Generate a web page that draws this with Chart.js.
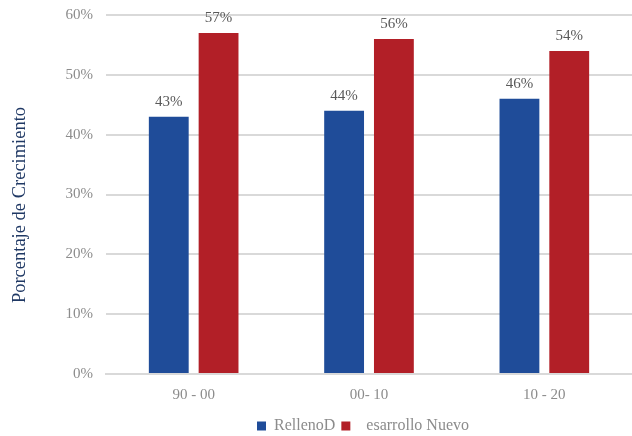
<!DOCTYPE html>
<html>
<head>
<meta charset="utf-8">
<script src="https://cdn.jsdelivr.net/npm/chart.js@4.4.1/dist/chart.umd.min.js"></script>
<style>
  html, body { margin: 0; padding: 0; background: #ffffff; }
  #wrap { width: 632px; height: 436px; }
</style>
</head>
<body>
<div id="wrap"><canvas id="c" width="632" height="436"></canvas></div>
<script>
// Periods and growth shares (percent)
const categories = ['90 - 00', '00- 10', '10 - 20'];
const rellenoValues = [43, 44, 46];
const desarrolloValues = [57, 56, 54];
const seriesNames = ['RellenoD', '  esarrollo Nuevo'];
const yTicks = [0, 10, 20, 30, 40, 50, 60];
const yTitle = 'Porcentaje de Crecimiento';

const SERIF = '"Liberation Serif", "DejaVu Serif", serif';

// Draws the percentage above each bar and the vertical axis title
const annotations = {
  id: 'annotations',
  afterLayout(chart) {
    // legend sits centred under the plot area rather than the whole canvas
    const lg = chart.legend;
    const shift = (chart.chartArea.left + chart.chartArea.right) / 2 - (lg.left + lg.right) / 2 - 6;
    lg.left += shift;
    lg.right += shift;
  },
  afterDatasetsDraw(chart) {
    const ctx = chart.ctx;
    ctx.save();
    ctx.font = '15px ' + SERIF;
    ctx.fillStyle = '#595959';
    ctx.textAlign = 'center';
    ctx.textBaseline = 'bottom';
    chart.data.datasets.forEach((ds, i) => {
      chart.getDatasetMeta(i).data.forEach((bar, j) => {
        ctx.fillText(ds.data[j] + '%', bar.x, bar.y - 7);
      });
    });
    ctx.restore();
  },
  afterDraw(chart) {
    const ctx = chart.ctx;
    ctx.save();
    ctx.translate(20, 205);
    ctx.rotate(-Math.PI / 2);
    ctx.font = '18.5px ' + SERIF;
    ctx.fillStyle = '#1F3864';
    ctx.textAlign = 'center';
    ctx.textBaseline = 'middle';
    ctx.fillText(yTitle, 0, 0);
    ctx.restore();
  }
};

new Chart(document.getElementById('c'), {
  type: 'bar',
  data: {
    labels: categories,
    datasets: [
      { label: seriesNames[0], data: rellenoValues, backgroundColor: '#1F4C99' },
      { label: seriesNames[1], data: desarrolloValues, backgroundColor: '#B21F27' }
    ]
  },
  options: {
    responsive: false,
    animation: false,
    devicePixelRatio: 1,
    layout: { padding: { top: 15, right: 0, bottom: -8, left: 0 } },
    datasets: {
      bar: { categoryPercentage: 0.568, barPercentage: 0.8 }
    },
    scales: {
      x: {
        grid: { display: false },
        border: { display: true, color: '#d9d9d9', width: 2 },
        ticks: { color: '#8c8c8c', font: { family: SERIF, size: 15 }, padding: 4 },
        afterFit(s) { s.height = 38; }
      },
      y: {
        min: 0, max: 60,
        afterBuildTicks(s) { s.ticks = yTicks.map(v => ({ value: v })); },
        grid: { color: '#d9d9d9', lineWidth: 2, drawTicks: false },
        border: { display: false },
        ticks: {
          color: '#8c8c8c',
          font: { family: SERIF, size: 15 },
          padding: 13,
          callback: v => v + '%'
        },
        afterFit(s) { s.width = 106; s.paddingTop = 0; s.paddingBottom = 0; }
      }
    },
    plugins: {
      legend: {
        position: 'bottom',
        labels: {
          color: '#8c8c8c',
          font: { family: SERIF, size: 16 },
          boxWidth: 9,
          boxHeight: 9,
          padding: 6
        }
      },
      tooltip: { enabled: false },
      title: { display: false }
    }
  },
  plugins: [annotations]
});
</script>
</body>
</html>
